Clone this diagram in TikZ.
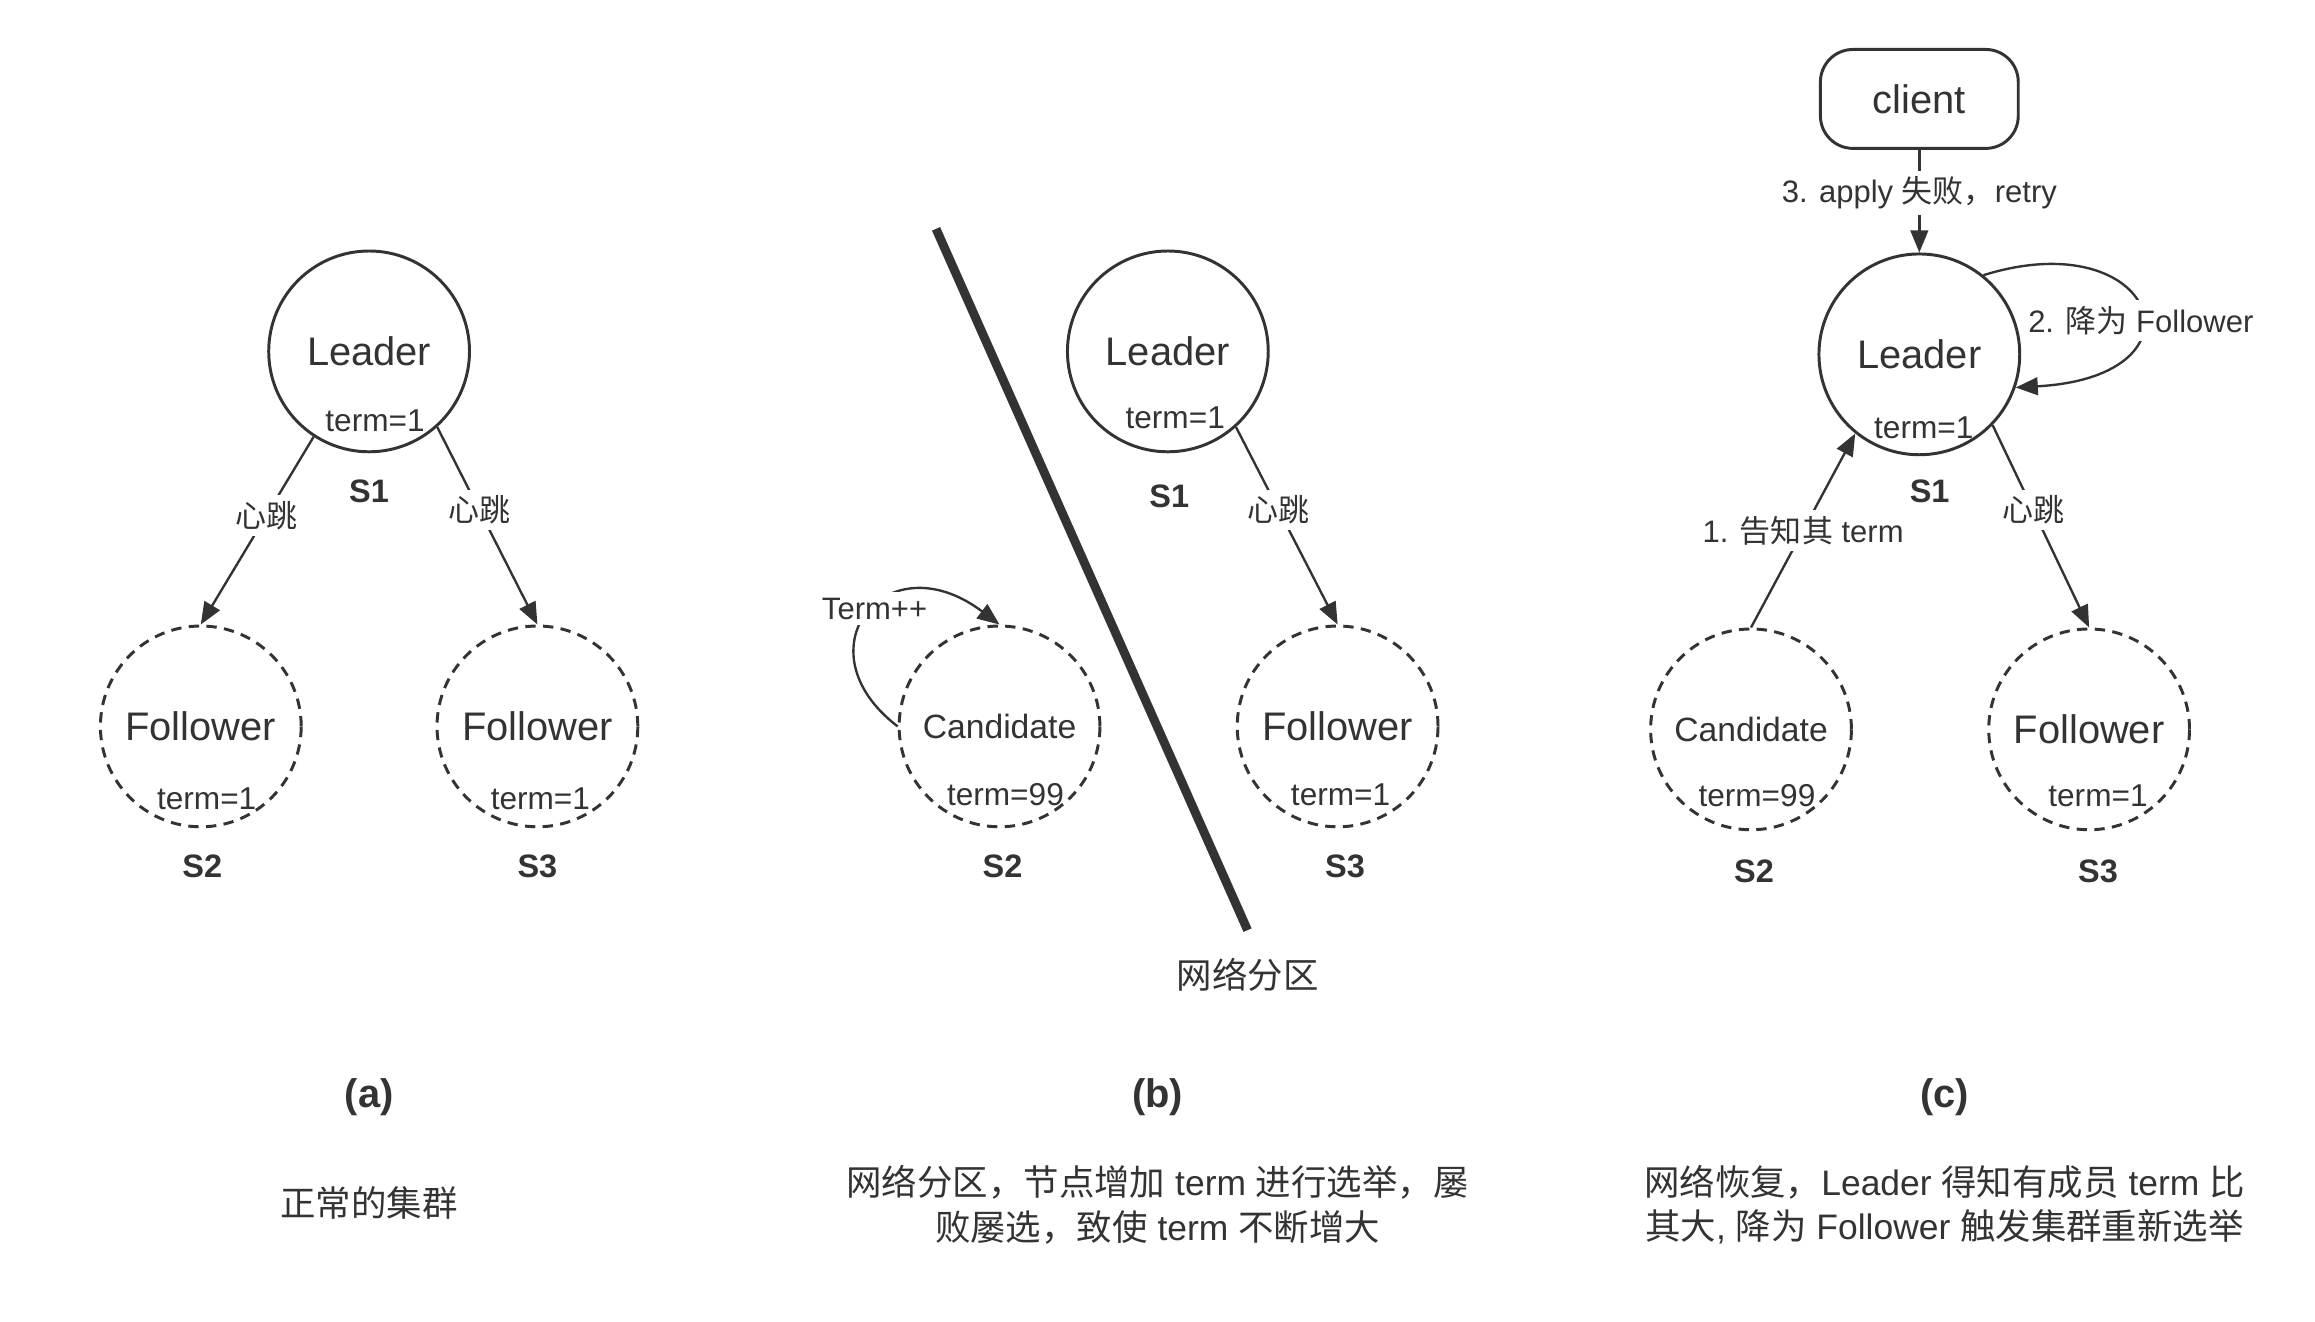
\documentclass[tikz,border=0pt]{standalone}
\usepackage{fontspec}
\setmainfont{Liberation Sans}
\newfontfamily\cjk{Noto Sans CJK SC}
\newcommand{\zh}[1]{{\cjk #1}}
\usetikzlibrary{arrows.meta}
\definecolor{ink}{HTML}{333333}

\begin{document}
\begin{tikzpicture}[x=0.5pt, y=-0.5pt, every node/.style={text=ink},
  server/.style={circle, draw=ink, line width=1pt, minimum size=68pt, inner sep=0pt, font=\fontsize{13.5}{16}\selectfont},
  lost/.style={server, dash pattern=on 3.5pt off 2.5pt},
  candfont/.style={font=\fontsize{11.4}{14}\selectfont},
  term/.style={font=\fontsize{10.7}{13}\selectfont},
  sid/.style={font=\bfseries\fontsize{11}{13}\selectfont},
  msg/.style={fill=white, inner sep=2pt, font=\fontsize{10.5}{13}\selectfont},
  arr/.style={draw=ink, line width=0.8pt, -{Triangle[length=7.5pt,width=6pt]}},
  desc/.style={font=\fontsize{12}{15}\selectfont, align=center},
  panel/.style={font=\bfseries\fontsize{13.5}{16}\selectfont}]
\useasboundingbox (0,0) rectangle (1568,895);

% (a)
\node[server] (a-s1) at (250,238) {Leader};
\node[term] (a-t1) at (254,285) {term=1};
\node[sid] (a-n1) at (250,333) {S1};
\node[lost] (a-s2) at (136,492) {Follower};
\node[term] (a-t2) at (140,541) {term=1};
\node[sid] (a-n2) at (137,587) {S2};
\node[lost] (a-s3) at (364,492) {Follower};
\node[term] (a-t3) at (366,541) {term=1};
\node[sid] (a-n3) at (364,587) {S3};
\draw[arr] (a-s1.237) -- node[msg, pos=0.42] (a-m2) {\zh{心跳}} (a-s2.north);
\draw[arr] (a-s1.-48) -- node[msg, pos=0.42] (a-m3) {\zh{心跳}} (a-s3.north);
\node[panel] (a-cap) at (250,743) {(a)};
\node[desc] (a-txt) at (250,815) {\zh{正常的集群}};

% (b)
\draw[ink, line width=3pt] (634,155) -- (845,630);
\node[desc] (b-cut) at (845,660) {\zh{网络分区}};
\node[server] (b-s1) at (791,238) {Leader};
\node[term] (b-t1) at (796,283) {term=1};
\node[sid] (b-n1) at (792,336) {S1};
\node[lost, candfont] (b-s2) at (677,492) {Candidate};
\node[term] (b-t2) at (681,538) {term=99};
\node[sid] (b-n2) at (679,587) {S2};
\node[lost] (b-s3) at (906,492) {Follower};
\node[term] (b-t3) at (908,538) {term=1};
\node[sid] (b-n3) at (911,587) {S3};
\draw[arr] (b-s1.-48) -- node[msg, pos=0.42] (b-m3) {\zh{心跳}} (b-s3.north);
\draw[arr] (b-s2.west) .. controls (540,440) and (600,365) .. node[msg, pos=0.54] (b-inc) {Term++} (b-s2.north);
\node[panel] (b-cap) at (784,743) {(b)};
\node[desc] (b-txt) at (784,816) {\zh{网络分区，节点增加} term \zh{进行选举，屡}\\\zh{败屡选，致使} term \zh{不断增大}};

% (c)
\node[draw=ink, line width=1pt, rounded corners=11pt, minimum width=67pt, minimum height=33.5pt, font=\fontsize{13.5}{16}\selectfont] (c-cl) at (1300,67) {client};
\node[server] (c-s1) at (1300,240) {Leader};
\node[term] (c-t1) at (1303,290) {term=1};
\node[sid] (c-n1) at (1307,333) {S1};
\node[lost, candfont] (c-s2) at (1186,494) {Candidate};
\node[term] (c-t2) at (1190,539) {term=99};
\node[sid] (c-n2) at (1188,590) {S2};
\node[lost] (c-s3) at (1415,494) {Follower};
\node[term] (c-t3) at (1421,539) {term=1};
\node[sid] (c-n3) at (1421,590) {S3};
\draw[arr] (c-cl) -- node[msg, pos=0.42] (c-m3) {3. apply \zh{失败，}retry} (c-s1);
\draw[arr] (c-s2.north) -- node[msg] (c-m1) {1. \zh{告知其} term} (c-s1.231);
\draw[arr] (c-s1.-44) -- node[msg, pos=0.42] (c-m4) {\zh{心跳}} (c-s3.north);
\draw[arr] (c-s1.51) .. controls (1460,150) and (1500,255) .. (c-s1.-19);
\node[msg] (c-m2) at (1450,217) {2. \zh{降为} Follower};
\node[panel] (c-cap) at (1317,743) {(c)};
\node[desc] (c-txt) at (1317,816) {\zh{网络恢复，}Leader \zh{得知有成员} term \zh{比}\\\zh{其大}, \zh{降为} Follower \zh{触发集群重新选举}};
\end{tikzpicture}
\end{document}
